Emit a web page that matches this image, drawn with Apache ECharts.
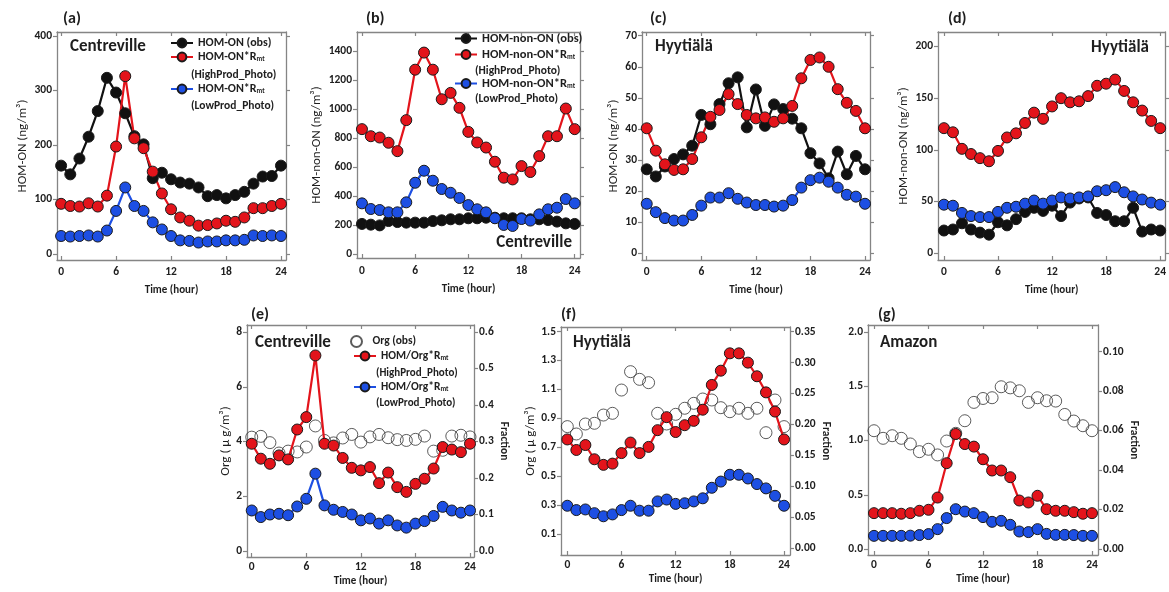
<!DOCTYPE html>
<html>
<head>
<meta charset="utf-8">
<script src="https://cdn.jsdelivr.net/npm/echarts@6/dist/echarts.min.js"></script>
<style>
html,body{margin:0;padding:0;background:#fff}
#main{width:1169px;height:592px}
</style>
</head>
<body>
<div id="main"></div>
<script>
// hour of day
var hours = [0,1,2,3,4,5,6,7,8,9,10,11,12,13,14,15,16,17,18,19,20,21,22,23,24];
var xTicks = [0,6,12,18,24];

// (a) Centreville HOM-ON
var aObs  = [162,146,175,215,262,323,296,258,216,201,139,149,137,131,129,122,106,108,102,108,114,129,142,143,162];
var aHigh = [92,88,87,93,87,107,197,326,212,194,151,111,82,67,61,52,53,56,61,59,67,84,84,88,92];
var aLow  = [33,32,33,34,32,43,79,122,88,79,58,45,33,25,24,21,23,23,25,25,26,34,33,34,33];
var aTicks = [0,100,200,300,400];

// (b) Centreville HOM-non-ON
var bObs  = [207,202,197,227,220,216,216,216,227,232,239,239,246,246,250,250,246,246,246,239,239,234,223,211,207];
var bHigh = [861,812,803,767,709,923,1271,1389,1271,1067,1111,1008,842,769,734,636,526,514,606,565,675,812,812,1003,861];
var bLow  = [349,310,303,287,287,356,491,574,505,448,422,386,337,308,287,246,200,193,241,230,273,308,319,379,349];
var bTicks = [0,200,400,600,800,1000,1200,1400];

// (c) Hyytiala HOM-ON
var cObs  = [27.0,24.7,27.9,30.3,31.8,34.6,44.5,41.5,48.0,54.7,56.6,40.5,52.7,41.0,47.9,46.4,43.3,40.2,32.2,28.9,24.1,32.7,25.4,31.3,27.0];
var cHigh = [40.2,33.0,28.6,26.8,27.0,30.3,37.3,43.9,46.1,51.2,48.0,44.5,43.4,43.7,42.3,43.4,47.4,56.3,62.2,63.0,60.0,52.8,48.4,45.8,40.2];
var cLow  = [15.9,13.2,11.3,10.5,10.5,12.3,15.3,17.9,17.9,19.3,17.5,16.3,15.5,15.5,15.0,15.3,17.1,21.1,23.5,24.3,23.0,21.1,18.8,18.2,15.9];
var cTicks = [0,10,20,30,40,50,60,70];

// (d) Hyytiala HOM-non-ON
var dObs  = [22,23,29,23,20,18,30,27,33,40,44,41,46,36,49,53,54,39,37,31,31,44,21,23,22];
var dHigh = [121,117,101,96,92,89,99,112,116,126,136,130,142,150,146,147,152,162,164,168,157,146,138,128,121];
var dLow  = [47,46,39,36,35,35,40,44,45,48,51,48,51,54,53,54,55,60,61,64,59,55,52,49,47];
var dTicks = [0,50,100,150,200];

// (e) Centreville Org and HOM/Org fraction
var eOrg  = [4.16,4.19,3.96,3.58,3.65,3.62,3.80,4.57,4.04,3.95,4.13,4.26,3.98,4.17,4.26,4.14,4.07,4.04,4.08,4.20,3.65,3.68,4.20,4.23,4.17];
var eHigh = [0.294,0.253,0.239,0.262,0.251,0.333,0.367,0.536,0.294,0.289,0.255,0.228,0.221,0.230,0.186,0.215,0.175,0.162,0.184,0.198,0.226,0.285,0.278,0.271,0.294];
var eLow  = [0.111,0.093,0.100,0.102,0.098,0.122,0.143,0.212,0.125,0.113,0.107,0.100,0.084,0.089,0.075,0.084,0.070,0.064,0.075,0.082,0.096,0.121,0.111,0.105,0.111];
var eTicks = [0,2,4,6,8];
var eFracTicks = [0,0.1,0.2,0.3,0.4,0.5,0.6];

// (f) Hyytiala
var fOrg  = [0.843,0.792,0.861,0.866,0.923,0.935,1.096,1.223,1.170,1.147,0.935,0.861,0.928,0.970,1.004,1.034,1.027,0.974,0.946,0.970,0.935,0.970,0.801,1.027,0.843];
var fHigh = [0.176,0.159,0.167,0.144,0.135,0.137,0.154,0.171,0.154,0.164,0.191,0.212,0.188,0.199,0.206,0.224,0.264,0.287,0.315,0.315,0.300,0.278,0.252,0.221,0.176];
var fLow  = [0.069,0.062,0.063,0.057,0.052,0.055,0.062,0.069,0.061,0.061,0.076,0.079,0.072,0.073,0.076,0.081,0.098,0.108,0.119,0.119,0.113,0.104,0.097,0.085,0.069];
var fTicks = [0.1,0.3,0.5,0.7,0.9,1.1,1.3,1.5];
var fFracTicks = [0,0.05,0.1,0.15,0.2,0.25,0.3,0.35];

// (g) Amazon
var gOrg  = [1.090,1.020,1.044,1.020,0.968,0.897,0.919,0.867,0.995,1.066,1.182,1.351,1.387,1.394,1.495,1.485,1.458,1.351,1.394,1.366,1.363,1.240,1.179,1.136,1.090];
var gHigh = [0.0182,0.0182,0.0182,0.0179,0.0182,0.0194,0.0199,0.0261,0.0435,0.0583,0.0532,0.0519,0.0455,0.0398,0.0398,0.0364,0.0246,0.0236,0.0270,0.0202,0.0194,0.0194,0.0187,0.0179,0.0182];
var gLow  = [0.0067,0.0067,0.0067,0.0067,0.0068,0.0071,0.0076,0.0101,0.0157,0.0202,0.0190,0.0182,0.0162,0.0138,0.0143,0.0123,0.0089,0.0086,0.0101,0.0077,0.0072,0.0072,0.0071,0.0067,0.0067];
var gTicks = [0,0.5,1,1.5,2];
var gFracTicks = [0,0.02,0.04,0.06,0.08,0.1];

var FONT = 'Carlito, Lato, "Open Sans", sans-serif';
var FRAME = '#858585';
var TXT = '#1e1e1e';
var RED = '#e3141b', BLUE = '#1d4fe3', BLACK = '#111111';

var legendText = {
  aObs:'HOM-ON (obs)', aHigh:'HOM-ON*R{sub|mt}', aLow:'HOM-ON*R{sub|mt}',
  bObs:'HOM-non-ON (obs)', bHigh:'HOM-non-ON*R{sub|mt}', bLow:'HOM-non-ON*R{sub|mt}',
  eOrg:'Org (obs)', eHigh:'HOM/Org*R{sub|mt}', eLow:'HOM/Org*R{sub|mt}'
};

var chart = echarts.init(document.getElementById('main'));
var grids = [], xAxes = [], yAxes = [], series = [], legends = [], texts = [];

function pairs(v){
  return hours.map(function(h, i){ return [h, v[i]]; });
}
function fmt(d){
  return function(v){ return v.toFixed(d); };
}
function tickLabel(ticks, d, margin){
  return {customValues: ticks, formatter: fmt(d), margin: margin, color: TXT,
    fontFamily: FONT, fontWeight: 'bold', fontSize: 11.5};
}
function lineSeries(name, data, color, xi, yi){
  series.push({
    type:'line', name:name, xAxisIndex:xi, yAxisIndex:yi, data:pairs(data),
    symbol:'circle', symbolSize:11, showSymbol:true,
    lineStyle:{color:color, width:2.2},
    itemStyle:{color:color, borderColor:'#1a1a1a', borderWidth:1},
    emphasis:{disabled:true}, animation:false
  });
}
function orgSeries(name, data, xi, yi){
  series.push({
    type:'scatter', name:name, xAxisIndex:xi, yAxisIndex:yi, data:pairs(data),
    symbol:'circle', symbolSize:12,
    itemStyle:{color:'rgba(255,255,255,0)', borderColor:'#333', borderWidth:1},
    emphasis:{disabled:true}, animation:false
  });
}
function addLegend(name, left, cy, size){
  legends.push({
    data:[name], left:left, top:cy - 7, orient:'vertical', padding:0,
    itemWidth:22, itemHeight:11, itemGap:0, selectedMode:false,
    formatter:function(n){ return legendText[n]; },
    textStyle:{color:TXT, fontFamily:FONT, fontWeight:'bold', fontSize:size,
      rich:{sub:{fontFamily:FONT, fontWeight:'bold', fontSize:7, color:TXT,
        verticalAlign:'bottom', padding:[5,0,0,0]}}}
  });
}
function addText(str, x, y, size, weight, align){
  texts.push({type:'text', x:x, y:y, z:100, silent:true,
    style:{text:str, fill:TXT, align:align || 'left', verticalAlign:'middle',
      font:(weight || 'bold') + ' ' + size + 'px ' + FONT}});
}

function addPanel(p){
  var gi = grids.length, xi = xAxes.length, yi = yAxes.length;
  grids.push({left:p.box[0], top:p.box[1], width:p.box[2], height:p.box[3]});
  var line = {show:true, onZero:false, lineStyle:{color:FRAME, width:1.3}};
  var xTick = {show:true, inside:true, length:4, customValues:xTicks, lineStyle:{color:FRAME, width:1.2}};
  xAxes.push({type:'value', gridIndex:gi, position:'bottom', min:p.x[0], max:p.x[1],
    splitLine:{show:false}, axisLine:line, axisTick:xTick,
    axisLabel:tickLabel(xTicks, 0, p.xMargin),
    name:'Time (hour)', nameLocation:'middle', nameGap:p.xGap,
    nameTextStyle:{color:TXT, fontFamily:FONT, fontWeight:'bold', fontSize:11}});
  xAxes.push({type:'value', gridIndex:gi, position:'top', min:p.x[0], max:p.x[1],
    splitLine:{show:false}, axisLine:line, axisTick:xTick, axisLabel:{show:false}});
  var yTick = function(t){ return {show:true, inside:false, length:4, customValues:t, lineStyle:{color:FRAME, width:1.2}}; };
  var left = {type:'value', gridIndex:gi, position:'left', min:p.y[0], max:p.y[1],
    splitLine:{show:false}, axisLine:line, axisTick:yTick(p.yTicks),
    axisLabel:tickLabel(p.yTicks, p.yDec, 5)};
  if (p.yName) {
    left.name = p.yName; left.nameLocation = 'middle'; left.nameGap = p.yGap; left.nameRotate = 90;
    left.nameTextStyle = {color:TXT, fontFamily:FONT, fontSize:13};
  }
  yAxes.push(left);
  if (p.frac) {
    yAxes.push({type:'value', gridIndex:gi, position:'right', min:p.frac[0], max:p.frac[1],
      splitLine:{show:false}, axisLine:line, axisTick:yTick(p.fracTicks),
      axisLabel:tickLabel(p.fracTicks, p.fracDec, 5),
      name:'Fraction', nameLocation:'middle', nameGap:p.fracGap, nameRotate:-90,
      nameTextStyle:{color:TXT, fontFamily:FONT, fontWeight:'bold', fontSize:11.5}});
  } else {
    yAxes.push({type:'value', gridIndex:gi, position:'right', min:p.y[0], max:p.y[1],
      splitLine:{show:false}, axisLine:line, axisTick:yTick(p.yTicks), axisLabel:{show:false}});
  }
  if (p.org) {
    orgSeries(p.key + 'Org', p.org, xi, yi);
    lineSeries(p.key + 'High', p.high, RED, xi, yi + 1);
    lineSeries(p.key + 'Low', p.low, BLUE, xi, yi + 1);
  } else {
    lineSeries(p.key + 'Obs', p.obs, BLACK, xi, yi);
    lineSeries(p.key + 'High', p.high, RED, xi, yi);
    lineSeries(p.key + 'Low', p.low, BLUE, xi, yi);
  }
  addText('(' + p.key + ')', p.letter[0], p.letter[1], 16);
  addText(p.site, p.sitePos[0], p.sitePos[1], 17, 'bold', p.siteAlign);
}

addPanel({key:'a', box:[57,32,229,228], x:[-0.45,24.55], y:[-11,407], yTicks:aTicks, yDec:0,
  yName:'HOM-ON (ng/m\u00b3)', yGap:28, xMargin:6, xGap:25,
  obs:aObs, high:aHigh, low:aLow, letter:[63,19], site:'Centreville', sitePos:[70,47]});
addPanel({key:'b', box:[357,32,223,226], x:[-0.56,24.6], y:[-28,1531], yTicks:bTicks, yDec:0,
  yName:'HOM-non-ON (ng/m\u00b3)', yGap:34, xMargin:7, xGap:26,
  obs:bObs, high:bHigh, low:bLow, letter:[366,19], site:'Centreville', sitePos:[572,243], siteAlign:'right'});
addPanel({key:'c', box:[642,32,228,228], x:[-0.52,24.55], y:[-2.2,71.2], yTicks:cTicks, yDec:0,
  yName:'HOM-ON (ng/m\u00b3)', yGap:22, xMargin:6, xGap:25,
  obs:cObs, high:cHigh, low:cLow, letter:[650,19], site:'Hyytiälä', sitePos:[655,47]});
addPanel({key:'d', box:[938,32,229,228], x:[-0.66,24.58], y:[-6.5,214], yTicks:dTicks, yDec:0,
  yName:'HOM-non-ON (ng/m\u00b3)', yGap:28, xMargin:6, xGap:25,
  obs:dObs, high:dHigh, low:dLow, letter:[948,19], site:'Hyytiälä', sitePos:[1149,48], siteAlign:'right'});
addPanel({key:'e', box:[247,325,227,232], x:[-0.52,24.44], y:[-0.22,8.26], yTicks:eTicks, yDec:0,
  yName:'Org ( \u03bc g/m\u00b3)', yGap:12, xMargin:4, xGap:19,
  frac:[-0.0165,0.6195], fracTicks:eFracTicks, fracDec:1, fracGap:21,
  org:eOrg, high:eHigh, low:eLow, letter:[251,315], site:'Centreville', sitePos:[255,343]});
addPanel({key:'f', box:[561,327,229,228], x:[-0.7,24.66], y:[-0.045,1.532], yTicks:fTicks, yDec:1,
  yName:'Org ( \u03bc g/m\u00b3)', yGap:22, xMargin:4, xGap:19,
  frac:[-0.0105,0.3575], fracTicks:fFracTicks, fracDec:2, fracGap:28,
  org:fOrg, high:fHigh, low:fLow, letter:[561,315], site:'Hyytiälä', sitePos:[573,343]});
addPanel({key:'g', box:[868,325,230,230], x:[-0.66,24.66], y:[-0.055,2.064], yTicks:gTicks, yDec:1,
  xMargin:4, xGap:19,
  frac:[-0.003,0.1135], fracTicks:gFracTicks, fracDec:2, fracGap:28,
  org:gOrg, high:gHigh, low:gLow, letter:[878,315], site:'Amazon', sitePos:[880,343]});

// legends (a), (b), (e)
addLegend('aObs', 170, 44, 12); addLegend('aHigh', 170, 58, 12); addLegend('aLow', 170, 90, 12);
addText('(HighProd_Photo)', 191, 75, 11.5); addText('(LowProd_Photo)', 191, 106, 11.5);
addLegend('bObs', 454, 39, 12.5); addLegend('bHigh', 454, 55, 12.5); addLegend('bLow', 454, 84, 12.5);
addText('(HighProd_Photo)', 475, 71, 11.5); addText('(LowProd_Photo)', 475, 99, 11.5);
addLegend('eOrg', 350, 342, 11.5); addLegend('eHigh', 353, 357, 11.5); addLegend('eLow', 353, 388, 11.5);
addText('(HighProd_Photo)', 376, 373, 11); addText('(LowProd_Photo)', 376, 403, 11);

chart.setOption({
  backgroundColor:'#fff',
  animation:false,
  grid:grids, xAxis:xAxes, yAxis:yAxes, series:series, legend:legends,
  graphic:texts
});
</script>
</body>
</html>
